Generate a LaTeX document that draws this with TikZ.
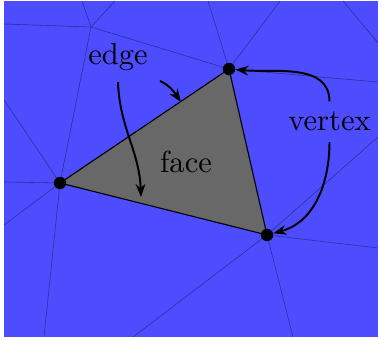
\documentclass[tikz,border=0pt]{standalone}
\usepackage{tikz}
\usetikzlibrary{arrows.meta, positioning}
\definecolor{meshblue}{RGB}{77,77,255}
\definecolor{meshdark}{RGB}{45,45,150}
\definecolor{facegray}{RGB}{104,104,104}

\begin{document}
\begin{tikzpicture}[>=Stealth,
    meshedge/.style={meshdark, line width=0.4pt},
    pointer/.style={->, line width=1.4pt},
    label text/.style={scale=2.17, anchor=base},
    dot/.style={circle, fill=black, inner sep=0pt, minimum size=0.31cm}]
      \useasboundingbox (0,0) rectangle (9.475,8.5);
      % Blue mesh region
      \fill[meshblue] (0.1,0.075) rectangle (9.45,8.475);

      % Corners of the face and one more mesh point
      \coordinate (pl) at (1.5,3.925);
      \coordinate (pt) at (5.725,6.775);
      \coordinate (pr) at (6.675,2.625);
      \coordinate (pm) at (2.275,7.825);

      % Mesh lines
      \foreach \x/\y in {0.1/7.9, 2.05/8.475, 2.875/8.475}
        \draw[meshedge] (pm) -- (\x,\y);
      \draw[meshedge] (pm) -- (pt);
      \draw[meshedge] (pm) -- (pl);
      \foreach \x/\y in {5.2/8.475, 7.0/8.475, 9.45/6.45}
        \draw[meshedge] (pt) -- (\x,\y);
      \foreach \x/\y in {0.1/6.0, 0.1/3.95, 0.1/2.875, 1.1/0.075}
        \draw[meshedge] (pl) -- (\x,\y);
      \foreach \x/\y in {3.325/0.075, 7.325/0.075, 9.45/2.3, 9.45/5.075}
        \draw[meshedge] (pr) -- (\x,\y);
      \draw[meshedge] (8.575,8.475) -- (9.45,7.425);

      % The face
      \draw[line width=0.8pt, fill=facegray] (pl) -- (pt) -- (pr) -- cycle;
      \node[dot] (vl) at (pl) {};
      \node[dot] (vt) at (pt) {};
      \node[dot] (vr) at (pr) {};

      % Labels
      \node[label text] (edge) at (2.95,6.875) {edge};
      \node[label text] (face) at (4.65,4.175) {face};
      \node[label text] (vertex) at (8.2375,5.225) {vertex};

      % Pointers
      \coordinate (edgestart) at (4.0,6.475);
      \coordinate (edgetip) at (3.525,3.575);
      \coordinate (abtip) at (4.525,5.95);
      \draw[pointer] (edge.south) to[out=-88, in=92] (edgetip);
      \draw[pointer] (edgestart) to[out=-25, in=125] (abtip);
      \draw[pointer] (vertex.north) to[out=90, in=-5] (vt);
      \draw[pointer] (vertex.south) to[out=-90, in=15] (vr);
    \end{tikzpicture}
\end{document}
